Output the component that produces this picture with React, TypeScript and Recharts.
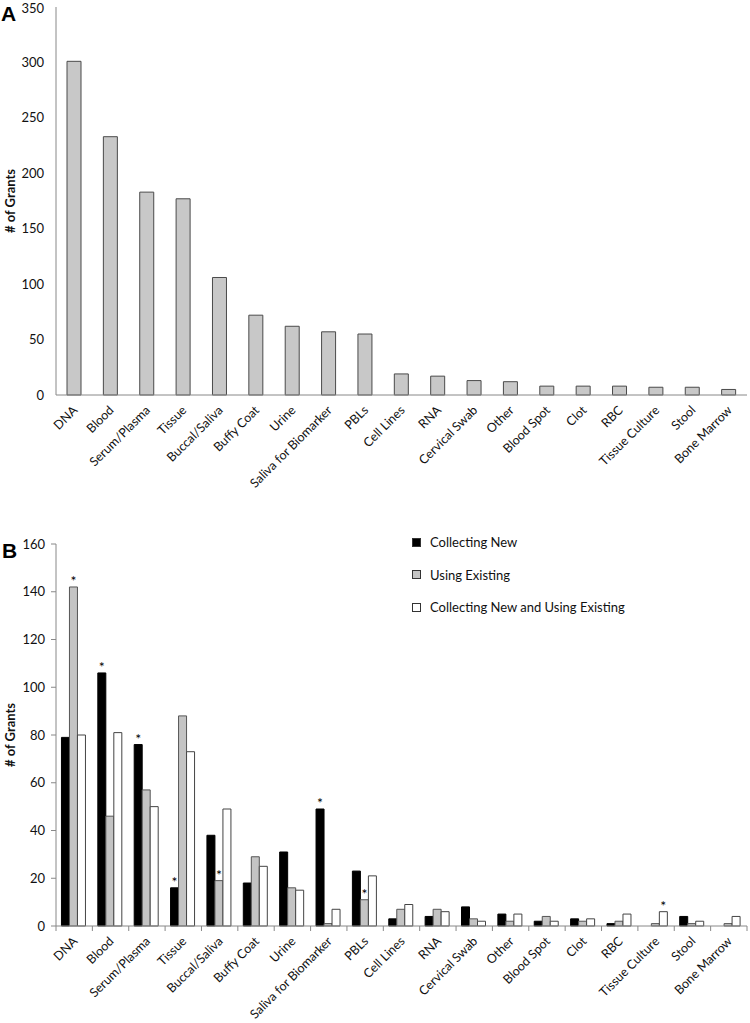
import React from 'react';
import { BarChart, Bar, XAxis, YAxis, Legend, Label, LabelList } from 'recharts';

const categories = [
  'DNA', 'Blood', 'Serum/Plasma', 'Tissue', 'Buccal/Saliva', 'Buffy Coat', 'Urine',
  'Saliva for Biomarker', 'PBLs', 'Cell Lines', 'RNA', 'Cervical Swab', 'Other',
  'Blood Spot', 'Clot', 'RBC', 'Tissue Culture', 'Stool', 'Bone Marrow',
];
const totalGrants = [301, 233, 183, 177, 106, 72, 62, 57, 55, 19, 17, 13, 12, 8, 8, 8, 7, 7, 5];
const collectingNew = [79, 106, 76, 16, 38, 18, 31, 49, 23, 3, 4, 8, 5, 2, 3, 1, 0, 4, 0];
const usingExisting = [142, 46, 57, 88, 19, 29, 16, 1, 11, 7, 7, 3, 2, 4, 2, 2, 1, 1, 1];
const collectingAndUsing = [80, 81, 50, 73, 49, 25, 15, 7, 21, 9, 6, 2, 5, 2, 3, 5, 6, 2, 4];
// which series carries the asterisk in each category
const starSeries = ['used', 'new', 'new', 'new', 'used', '', '', 'new', 'used', '', '', '', '', '', '', '', 'both', '', ''];
const legendOrder = ['Collecting New', 'Using Existing', 'Collecting New and Using Existing'];
const ticksA = [0, 50, 100, 150, 200, 250, 300, 350];
const ticksB = [0, 20, 40, 60, 80, 100, 120, 140, 160];

const dataA = categories.map((name, i) => ({ name, total: totalGrants[i] }));
const dataB = categories.map((name, i) => ({
  name,
  newOnly: collectingNew[i],
  used: usingExisting[i],
  both: collectingAndUsing[i],
}));

const FONT = 'Lato, "Open Sans", sans-serif';
const AXIS = '#888';

const SlantTick = (props: any) => {
  const { x, y, payload, index, visibleTicksCount, edges } = props;
  const off = payload.offset ?? 18;
  return (
    <g>
      {edges && <line x1={x - off} x2={x - off} y1={y} y2={y + 5} stroke={AXIS} />}
      {edges && index === visibleTicksCount - 1 && (
        <line x1={x + off} x2={x + off} y1={y} y2={y + 5} stroke={AXIS} />
      )}
      <text
        transform={`translate(${x + 4},${y + 16}) rotate(-45)`}
        textAnchor="end"
        fontSize={12.5}
        fontFamily={FONT}
        fill="#111"
      >
        {payload.value}
      </text>
    </g>
  );
};

const starLabel = (key: string) => (props: any) => {
  const { x, y, width, index } = props;
  if (starSeries[index] !== key) return null;
  return (
    <text x={x + width / 2} y={y - 1} textAnchor="middle" fontSize={14} fontFamily={FONT} fill="#000">
      *
    </text>
  );
};

const LegendB = (props: any) => {
  const items = legendOrder.map((n) => props.payload.find((p: any) => p.value === n)).filter(Boolean);
  return (
    <div style={{ fontFamily: FONT, fontSize: 13, color: '#111' }}>
      {items.map((p: any) => (
        <div key={p.value} style={{ display: 'flex', alignItems: 'center', height: 32.5 }}>
          <span
            style={{
              width: 7,
              height: 7,
              background: p.payload.fill,
              border: '1px solid #333',
              marginRight: 9,
            }}
          />
          {p.value}
        </div>
      ))}
    </div>
  );
};

const yLabel = (
  <Label
    value="# of Grants"
    angle={-90}
    position="insideLeft"
    offset={10}
    style={{ textAnchor: 'middle', fontWeight: 'bold', fontSize: 13, fontFamily: FONT, fill: '#111' }}
  />
);

const panelLetter: React.CSSProperties = {
  position: 'absolute',
  fontFamily: '"Liberation Sans", Arial, sans-serif',
  fontWeight: 'bold',
  fontSize: 21,
  lineHeight: '21px',
  color: '#000',
};

export default function App() {
  return (
    <div style={{ position: 'absolute', left: 0, top: 0, width: 750, height: 1023, background: '#fff' }}>
      <div style={{ ...panelLetter, left: 1, top: 3 }}>A</div>
      <div style={{ ...panelLetter, left: 2, top: 540 }}>B</div>

      <div style={{ position: 'absolute', left: 0, top: 0 }}>
        <BarChart width={750} height={505} data={dataA} margin={{ top: 7, right: 3, left: 0, bottom: 0 }} barSize={14}>
          <XAxis
            dataKey="name"
            interval={0}
            height={110}
            tickSize={0}
            tickMargin={0}
            tick={<SlantTick />}
            axisLine={{ stroke: AXIS }}
          />
          <YAxis
            width={56}
            domain={[0, 350]}
            ticks={ticksA}
            tickLine={false}
            tickSize={6}
            tickMargin={6}
            axisLine={{ stroke: AXIS }}
            tick={{ fontSize: 13, fontFamily: FONT, fill: '#111' }}
          >
            {yLabel}
          </YAxis>
          <Bar dataKey="total" fill="#c8c8c8" stroke="#4a4a4a" strokeWidth={1} isAnimationActive={false} />
        </BarChart>
      </div>

      <div style={{ position: 'absolute', left: 0, top: 510 }}>
        <BarChart
          width={750}
          height={513}
          data={dataB}
          margin={{ top: 34, right: 3, left: 0, bottom: 0 }}
          barCategoryGap="15%"
          barGap={0}
        >
          <XAxis
            dataKey="name"
            interval={0}
            height={97}
            tickSize={0}
            tickMargin={0}
            tick={<SlantTick edges />}
            axisLine={{ stroke: AXIS }}
          />
          <YAxis
            width={56}
            domain={[0, 160]}
            ticks={ticksB}
            tickSize={5}
            tickMargin={6}
            tickLine={{ stroke: AXIS }}
            axisLine={{ stroke: AXIS }}
            tick={{ fontSize: 13, fontFamily: FONT, fill: '#111' }}
          >
            {yLabel}
          </YAxis>
          <Legend
            layout="vertical"
            align="center"
            verticalAlign="middle"
            itemSorter={null as any}
            content={<LegendB />}
            wrapperStyle={{ top: 16, left: 412, width: 300 }}
          />
          <Bar dataKey="newOnly" name="Collecting New" fill="#000" stroke="#000" isAnimationActive={false}>
            <LabelList dataKey="newOnly" content={starLabel('new')} />
          </Bar>
          <Bar dataKey="used" name="Using Existing" fill="#c4c4c4" stroke="#555" isAnimationActive={false}>
            <LabelList dataKey="used" content={starLabel('used')} />
          </Bar>
          <Bar dataKey="both" name="Collecting New and Using Existing" fill="#fff" stroke="#444" isAnimationActive={false}>
            <LabelList dataKey="both" content={starLabel('both')} />
          </Bar>
        </BarChart>
      </div>
    </div>
  );
}
